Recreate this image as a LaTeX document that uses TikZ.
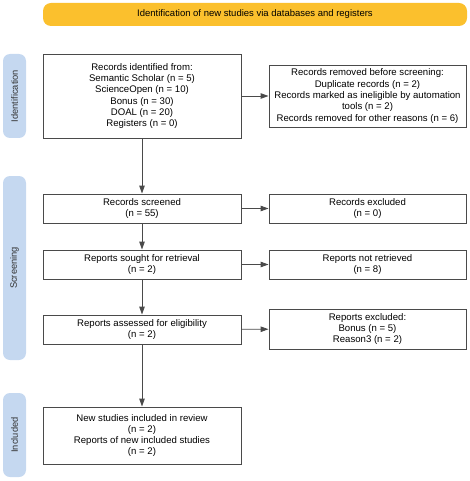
\documentclass[tikz,border=0pt]{standalone}
\usepackage{fontspec}
\setmainfont{Liberation Sans}
\usetikzlibrary{arrows.meta}
\definecolor{hdr}{HTML}{FBC02D}
\definecolor{side}{HTML}{C5D8F0}
\definecolor{ln}{HTML}{4A4A4A}
\tikzset{
  box/.style={draw=ln, line width=0.9pt, fill=white, align=center, font=\fontsize{9.6}{11.3}\selectfont, inner sep=0pt},
  sidelab/.style={fill=side, rounded corners=7pt, inner sep=0pt},
  sidetxt/.style={rotate=90, font=\fontsize{9.3}{10}\selectfont, text=black!80},
  arr/.style={draw=ln, line width=0.9pt, -{Triangle[length=8pt,width=5.5pt]}},
}
\begin{document}
\begin{tikzpicture}[x=1pt,y=-1pt]
\useasboundingbox (0,0) rectangle (470,481);
% header
\node[fill=hdr, rounded corners=8pt, minimum width=424pt, minimum height=23pt, inner sep=0pt, font=\fontsize{9.5}{10}\selectfont] (hdr) at (255,14.5) {Identification of new studies via databases and registers};
% side labels
\node[sidelab, minimum width=23pt, minimum height=84pt] (sid) at (14.5,96) {};
\node[sidetxt] at (sid) {Identification};
\node[sidelab, minimum width=23pt, minimum height=184pt] (sscr) at (14.5,268) {};
\node[sidetxt] at (sscr) {Screening};
\node[sidelab, minimum width=23pt, minimum height=84pt] (sinc) at (14.5,435) {};
\node[sidetxt] at (sinc) {Included};
% left column
\node[box, minimum width=198pt, minimum height=84pt] (ident) at (142,96) {Records identified from:\\Semantic Scholar (n = 5)\\ScienceOpen (n = 10)\\Bonus (n = 30)\\DOAL (n = 20)\\Registers (n = 0)};
\node[box, minimum width=198pt, minimum height=29pt] (screen) at (142,208.5) {Records screened\\(n = 55)};
\node[box, minimum width=198pt, minimum height=29pt] (sought) at (142,264.5) {Reports sought for retrieval\\(n = 2)};
\node[box, minimum width=198pt, minimum height=29pt] (assess) at (142,329.5) {Reports assessed for eligibility\\(n = 2)};
\node[box, minimum width=198pt, minimum height=57pt] (incl) at (142,435.5) {New studies included in review\\(n = 2)\\Reports of new included studies\\(n = 2)};
% right column
\node[box, minimum width=197pt, minimum height=62pt] (removed) at (367.5,96) {Records removed before screening:\\Duplicate records (n = 2)\\Records marked as ineligible by automation\\tools (n = 2)\\Records removed for other reasons (n = 6)};
\node[box, minimum width=197pt, minimum height=29pt] (excl) at (367.5,208.5) {Records excluded\\(n = 0)};
\node[box, minimum width=197pt, minimum height=29pt] (notret) at (367.5,264.5) {Reports not retrieved\\(n = 8)};
\node[box, minimum width=197pt, minimum height=40pt] (repexcl) at (367.5,329) {Reports excluded:\\Bonus (n = 5)\\Reason3 (n = 2)};
% arrows
\draw[arr] (ident) -- (screen);
\draw[arr] (screen) -- (sought);
\draw[arr] (sought) -- (assess);
\draw[arr] (assess) -- (incl);
\draw[arr] (ident) -- (removed);
\draw[arr] (screen) -- (excl);
\draw[arr] (sought) -- (notret);
\draw[arr] (assess) -- (repexcl);
\end{tikzpicture}
\end{document}
